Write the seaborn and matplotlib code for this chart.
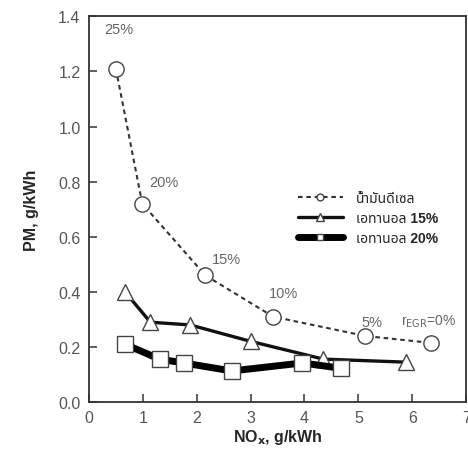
import matplotlib
matplotlib.use("Agg")
import matplotlib.pyplot as plt
import seaborn as sns

sns.set_style("ticks")
plt.rcParams['font.family'] = ['Liberation Sans', 'Noto Sans Thai', 'Loma', 'Garuda', 'DejaVu Sans']

# diesel, ethanol 15 %, ethanol 20 %
diesel_nox = [0.50, 0.99, 2.16, 3.42, 5.13, 6.34]
diesel_pm = [1.21, 0.72, 0.46, 0.31, 0.24, 0.215]
egr_labels = ["25%", "20%", "15%", "10%", "5%"]

e15_nox = [0.67, 1.14, 1.88, 3.01, 4.35, 5.88]
e15_pm = [0.40, 0.29, 0.28, 0.22, 0.156, 0.145]

e20_nox = [0.67, 1.31, 1.76, 2.65, 3.96, 4.67]
e20_pm = [0.21, 0.156, 0.142, 0.113, 0.142, 0.123]

names = ["น้ำมันดีเซล", "เอทานอล 15%", "เอทานอล 20%"]

fig = plt.figure(figsize=(4.68, 4.56), dpi=100)
ax = fig.add_axes([0.190, 0.116, 0.806, 0.846])

edge = "#444444"
sns.lineplot(x=diesel_nox, y=diesel_pm, ax=ax, color="#333333", lw=1.5,
             linestyle=(0, (2.2, 1.8)), marker="o", markersize=11,
             markerfacecolor="white", markeredgecolor=edge, markeredgewidth=1.0,
             label=names[0])
sns.lineplot(x=e15_nox, y=e15_pm, ax=ax, color="#111111", lw=2.4,
             marker="^", markersize=12, markerfacecolor="white",
             markeredgecolor=edge, markeredgewidth=1.0, label=names[1])
sns.lineplot(x=e20_nox, y=e20_pm, ax=ax, color="#000000", lw=5,
             marker="s", markersize=11, markerfacecolor="white",
             markeredgecolor=edge, markeredgewidth=1.0, label=names[2])

# EGR rate annotations
offsets = [(0.05, 0.145), (0.4, 0.08), (0.4, 0.06), (0.2, 0.085), (0.13, 0.052)]
for xv, yv, lab, (dx, dy) in zip(diesel_nox, diesel_pm, egr_labels, offsets):
    ax.text(xv + dx, yv + dy, lab, color="#666666", fontsize=10.5,
            ha="center", va="center")
ax.text(6.3, 0.295, r"r$_{\mathrm{EGR}}$=0%", color="#666666", fontsize=10,
        ha="center", va="center")

ax.set_xlim(0, 7)
ax.set_ylim(0, 1.4)
ax.set_xticks(range(0, 8))
ax.set_yticks([0.0, 0.2, 0.4, 0.6, 0.8, 1.0, 1.2, 1.4])
ax.set_yticklabels([f"{v:.1f}" for v in ax.get_yticks()])
ax.tick_params(direction="in", length=6, width=1.2, labelsize=11.5,
               labelcolor="#555555", color="#444444", pad=6)
for s in ax.spines.values():
    s.set_linewidth(1.3)
    s.set_color("#333333")

ax.set_xlabel(r"NO$_\mathbf{x}$, g/kWh", fontsize=11.5, fontweight="bold", labelpad=1)
ax.set_ylabel("PM, g/kWh", fontsize=11.5, fontweight="bold", labelpad=14)

leg = ax.legend(loc="upper left", bbox_to_anchor=(0.52, 0.58), frameon=False,
                handlelength=3.3, markerscale=0.45, fontsize=10,
                labelspacing=0.45, handletextpad=0.9)
for t in leg.get_texts():
    t.set_fontweight("bold")

fig.savefig("out.png", dpi=100)
